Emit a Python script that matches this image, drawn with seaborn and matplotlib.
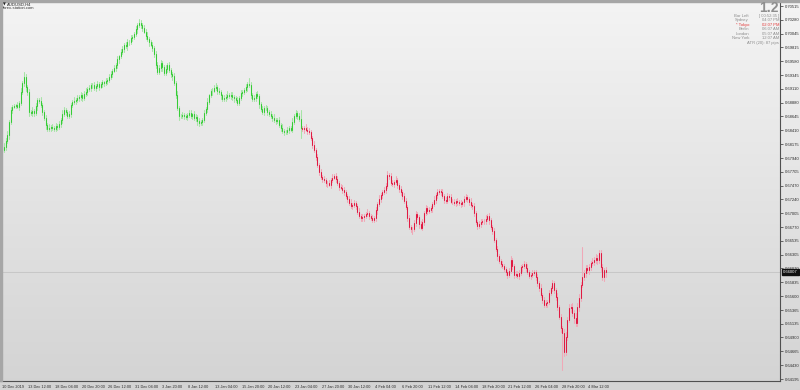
import numpy as np
import pandas as pd
import matplotlib
matplotlib.use("Agg")
import matplotlib.pyplot as plt
import matplotlib.transforms as mtransforms
from matplotlib.colors import LinearSegmentedColormap
from matplotlib.patches import Rectangle
import seaborn as sns

# ---------------- data (AUDUSD, H4) ----------------
symbol = "AUDUSD,H4"
source = "forex-station.com"
first_open = 0.6816
close = [
    0.6811, 0.6808, 0.6813, 0.6823, 0.6833, 0.6855, 0.6875, 0.6880, 0.6882, 0.6884, 0.6881, 0.6887, 0.6906, 0.6921, 0.6931, 0.6914,
    0.6906, 0.6872, 0.6870, 0.6874, 0.6870, 0.6882, 0.6892, 0.6891, 0.6884, 0.6872, 0.6862, 0.6850, 0.6843, 0.6845, 0.6847, 0.6845,
    0.6843, 0.6848, 0.6847, 0.6852, 0.6858, 0.6869, 0.6875, 0.6872, 0.6865, 0.6869, 0.6884, 0.6889, 0.6891, 0.6892, 0.6896, 0.6897,
    0.6901, 0.6896, 0.6903, 0.6906, 0.6911, 0.6913, 0.6917, 0.6918, 0.6912, 0.6916, 0.6919, 0.6915, 0.6919, 0.6922, 0.6921, 0.6925,
    0.6926, 0.6932, 0.6937, 0.6942, 0.6946, 0.6951, 0.6961, 0.6966, 0.6974, 0.6978, 0.6985, 0.6983, 0.6991, 0.6990, 0.6997, 0.6999,
    0.7004, 0.7012, 0.7019, 0.7023, 0.7019, 0.7014, 0.7008, 0.7001, 0.6996, 0.6990, 0.6986, 0.6980, 0.6970, 0.6952, 0.6940, 0.6946,
    0.6955, 0.6948, 0.6938, 0.6945, 0.6952, 0.6943, 0.6936, 0.6933, 0.6921, 0.6901, 0.6879, 0.6865, 0.6865, 0.6867, 0.6865, 0.6863,
    0.6867, 0.6871, 0.6866, 0.6868, 0.6862, 0.6864, 0.6856, 0.6853, 0.6855, 0.6859, 0.6870, 0.6877, 0.6889, 0.6900, 0.6907, 0.6908,
    0.6913, 0.6915, 0.6908, 0.6906, 0.6900, 0.6894, 0.6896, 0.6898, 0.6901, 0.6899, 0.6901, 0.6897, 0.6895, 0.6892, 0.6888, 0.6896,
    0.6904, 0.6906, 0.6909, 0.6914, 0.6919, 0.6918, 0.6901, 0.6894, 0.6896, 0.6902, 0.6899, 0.6885, 0.6877, 0.6872, 0.6879, 0.6879,
    0.6872, 0.6869, 0.6865, 0.6862, 0.6858, 0.6857, 0.6858, 0.6850, 0.6845, 0.6840, 0.6838, 0.6838, 0.6842, 0.6845, 0.6842, 0.6855,
    0.6865, 0.6870, 0.6865, 0.6860, 0.6845, 0.6843, 0.6845, 0.6842, 0.6840, 0.6838, 0.6828, 0.6816, 0.6808, 0.6796, 0.6782, 0.6770,
    0.6762, 0.6758, 0.6756, 0.6751, 0.6752, 0.6749, 0.6757, 0.6761, 0.6764, 0.6759, 0.6752, 0.6745, 0.6744, 0.6739, 0.6737, 0.6730,
    0.6725, 0.6718, 0.6713, 0.6714, 0.6718, 0.6713, 0.6703, 0.6696, 0.6692, 0.6694, 0.6696, 0.6699, 0.6701, 0.6696, 0.6692, 0.6689,
    0.6692, 0.6706, 0.6716, 0.6725, 0.6731, 0.6736, 0.6740, 0.6747, 0.6765, 0.6764, 0.6752, 0.6750, 0.6753, 0.6757, 0.6748, 0.6742,
    0.6736, 0.6730, 0.6721, 0.6711, 0.6692, 0.6677, 0.6674, 0.6674, 0.6684, 0.6699, 0.6694, 0.6682, 0.6676, 0.6686, 0.6701, 0.6709,
    0.6704, 0.6706, 0.6709, 0.6716, 0.6723, 0.6731, 0.6736, 0.6738, 0.6736, 0.6730, 0.6723, 0.6721, 0.6730, 0.6728, 0.6720, 0.6720,
    0.6718, 0.6721, 0.6719, 0.6717, 0.6716, 0.6719, 0.6725, 0.6728, 0.6724, 0.6720, 0.6714, 0.6712, 0.6701, 0.6686, 0.6679, 0.6682,
    0.6686, 0.6687, 0.6687, 0.6691, 0.6696, 0.6689, 0.6677, 0.6670, 0.6655, 0.6640, 0.6628, 0.6620, 0.6615, 0.6611, 0.6606, 0.6601,
    0.6596, 0.6603, 0.6621, 0.6611, 0.6596, 0.6598, 0.6594, 0.6599, 0.6609, 0.6611, 0.6615, 0.6608, 0.6601, 0.6594, 0.6596, 0.6599,
    0.6601, 0.6592, 0.6582, 0.6574, 0.6562, 0.6554, 0.6545, 0.6548, 0.6550, 0.6565, 0.6574, 0.6582, 0.6570, 0.6559, 0.6542, 0.6525,
    0.6506, 0.6498, 0.6465, 0.6491, 0.6520, 0.6540, 0.6542, 0.6532, 0.6523, 0.6515, 0.6542, 0.6557, 0.6579, 0.6592, 0.6599, 0.6608,
    0.6604, 0.6609, 0.6616, 0.6618, 0.6621, 0.6625, 0.6621, 0.6633, 0.6609, 0.6592, 0.6604, 0.66007,
]
upper_wick_pips = [
    4, 3, 6, 5, 7, 4, 5, 3, 4, 2, 5, 3, 6, 4, 9, 5,
    3, 5, 4, 6, 3, 5, 4, 3, 6, 4, 3, 5, 4, 6, 3, 4,
    4, 6, 3, 5, 4, 6, 5, 3, 4, 5, 3, 4, 6, 3, 5, 4,
    5, 3, 4, 6, 3, 5, 4, 3, 5, 4, 6, 3, 4, 5, 3, 4,
    3, 5, 4, 3, 6, 4, 5, 3, 4, 6, 3, 5, 4, 3, 5, 4,
    4, 5, 3, 7, 4, 3, 5, 4, 6, 3, 4, 5, 3, 6, 4, 5,
    5, 3, 4, 6, 3, 5, 4, 3, 5, 4, 6, 3, 4, 5, 3, 4,
    3, 5, 4, 3, 6, 4, 3, 5, 4, 3, 5, 4, 6, 3, 4, 5,
    4, 6, 3, 5, 4, 3, 5, 4, 6, 3, 4, 5, 3, 4, 6, 3,
    5, 3, 4, 6, 3, 11, 4, 3, 5, 4, 6, 3, 4, 5, 3, 4,
    3, 4, 5, 3, 6, 4, 3, 5, 4, 6, 3, 4, 5, 3, 4, 6,
    4, 6, 3, 5, 15, 4, 3, 6, 4, 5, 3, 4, 6, 3, 5, 4,
    5, 3, 6, 4, 3, 5, 4, 6, 3, 5, 4, 3, 5, 4, 6, 3,
    3, 4, 6, 3, 5, 4, 3, 6, 4, 5, 3, 4, 6, 3, 4, 5,
    4, 5, 3, 6, 4, 3, 5, 4, 7, 3, 4, 5, 3, 6, 4, 3,
    5, 3, 4, 6, 3, 5, 4, 3, 5, 6, 4, 3, 5, 4, 3, 5,
    3, 5, 4, 3, 6, 4, 5, 3, 4, 6, 3, 5, 4, 3, 5, 4,
    4, 3, 5, 4, 6, 3, 4, 5, 3, 4, 6, 3, 5, 4, 3, 5,
    5, 4, 3, 6, 4, 5, 3, 4, 6, 3, 5, 4, 3, 5, 4, 3,
    3, 5, 7, 4, 3, 5, 4, 6, 3, 4, 5, 3, 6, 4, 3, 5,
    4, 3, 5, 4, 6, 3, 4, 5, 3, 6, 4, 5, 3, 4, 6, 3,
    5, 4, 6, 8, 5, 7, 4, 6, 5, 8, 6, 7, 5, 51, 6, 5,
    5, 6, 4, 7, 5, 6, 4, 5, 6, 5, 4, 6,
]
lower_wick_pips = [
    7, 4, 3, 5, 4, 6, 3, 5, 2, 4, 3, 5, 4, 3, 5, 6,
    5, 6, 3, 4, 5, 3, 6, 4, 3, 5, 4, 6, 3, 4, 5, 3,
    3, 4, 5, 3, 6, 4, 3, 5, 4, 3, 5, 3, 4, 6, 3, 5,
    4, 5, 3, 4, 5, 3, 6, 4, 3, 5, 4, 6, 3, 4, 5, 3,
    5, 3, 4, 6, 3, 5, 4, 6, 3, 4, 5, 3, 6, 4, 3, 5,
    3, 4, 6, 3, 5, 4, 3, 5, 4, 6, 3, 4, 5, 6, 4, 3,
    4, 6, 3, 4, 5, 3, 4, 6, 3, 5, 4, 6, 3, 4, 5, 3,
    5, 3, 4, 6, 3, 5, 6, 4, 3, 5, 4, 3, 5, 4, 3, 6,
    3, 4, 5, 3, 6, 4, 3, 5, 4, 3, 5, 4, 6, 3, 4, 5,
    4, 5, 3, 4, 6, 3, 5, 4, 3, 5, 4, 6, 3, 4, 5, 3,
    5, 3, 4, 6, 3, 5, 4, 3, 6, 4, 5, 3, 4, 5, 3, 4,
    3, 4, 5, 3, 17, 4, 6, 3, 5, 4, 3, 5, 4, 6, 3, 5,
    4, 5, 3, 4, 6, 3, 5, 4, 3, 6, 4, 5, 3, 4, 5, 3,
    5, 3, 4, 6, 3, 5, 4, 3, 5, 4, 6, 3, 4, 5, 3, 4,
    3, 4, 6, 3, 5, 4, 3, 5, 4, 6, 3, 4, 5, 3, 4, 6,
    4, 6, 3, 4, 5, 3, 6, 8, 3, 5, 4, 6, 3, 4, 5, 3,
    5, 3, 4, 6, 3, 5, 4, 3, 5, 4, 6, 3, 4, 5, 3, 4,
    3, 5, 4, 3, 5, 4, 6, 3, 4, 5, 3, 4, 6, 3, 5, 4,
    4, 3, 5, 4, 3, 6, 4, 5, 3, 4, 6, 3, 5, 4, 3, 5,
    5, 4, 3, 5, 6, 3, 4, 5, 3, 6, 4, 5, 3, 4, 5, 3,
    3, 5, 4, 6, 3, 5, 4, 3, 6, 4, 3, 5, 4, 6, 5, 4,
    6, 63, 7, 5, 6, 4, 7, 5, 8, 6, 5, 7, 6, 4, 5, 6,
    4, 6, 5, 4, 6, 5, 7, 4, 6, 5, 6, 8,
]
n_up_bars = 181  # first bars drawn in the "up" colour, the rest in the "down" colour

time_labels = ["10 Dec 2019", "13 Dec 12:00", "18 Dec 04:00", "20 Dec 20:00", "26 Dec 12:00",
               "31 Dec 04:00", "3 Jan 20:00", "8 Jan 12:00", "13 Jan 04:00", "15 Jan 20:00",
               "20 Jan 12:00", "23 Jan 04:00", "27 Jan 20:00", "30 Jan 12:00", "4 Feb 04:00",
               "6 Feb 20:00", "11 Feb 12:00", "14 Feb 04:00", "18 Feb 20:00", "21 Feb 12:00",
               "26 Feb 04:00", "28 Feb 20:00", "4 Mar 12:00"]
time_label_bars = [0, 16, 32, 48, 64, 80, 96, 112, 128, 144, 160, 176, 192, 208, 224,
                   240, 256, 272, 288, 304, 320, 336, 352]

price_ticks = [0.70515, 0.70280, 0.70045, 0.69815, 0.69580, 0.69345, 0.69110, 0.68880,
               0.68645, 0.68410, 0.68175, 0.67940, 0.67705, 0.67470, 0.67240, 0.67005,
               0.66770, 0.66535, 0.66305, 0.66070, 0.65835, 0.65600, 0.65365, 0.65135,
               0.64900, 0.64665, 0.64430, 0.64195]
price_tick_labels = [f"{p:.5f}" for p in price_ticks]

version_text = "1.2"
info_labels = ["Bar Left", "Sydney", "* Tokyo", "Berlin", "London", "New York"]
info_values = ["[ 00:52:35 ]", "04:07 PM", "02:07 PM", "06:07 AM", "05:07 AM", "12:07 AM"]
atr_text = "ATR (20): 87 pips"

# ---------------- frame ----------------
n = len(close)
bars = np.arange(n)
opens = np.array([first_open] + close[:-1])
closes = np.array(close)
highs = np.maximum(opens, closes) + np.array(upper_wick_pips) / 10000.0
lows = np.minimum(opens, closes) - np.array(lower_wick_pips) / 10000.0
trend = np.array(["up"] * n_up_bars + ["down"] * (n - n_up_bars))

wick_df = pd.DataFrame({"bar": np.repeat(bars, 2),
                        "price": np.column_stack([lows, highs]).ravel(),
                        "trend": np.repeat(trend, 2)})
body_df = pd.DataFrame({"bar": np.repeat(bars, 2),
                        "price": np.column_stack([opens, closes]).ravel(),
                        "trend": np.repeat(trend, 2)})

sns.set_style("white")
plt.rcParams["font.family"] = ["Liberation Sans", "DejaVu Sans"]

W, H = 800, 390
fig = plt.figure(figsize=(W / 100, H / 100), dpi=100)

def fx(x):
    return x / W

def fy(y):
    return 1 - y / H

# background gradient
bg = fig.add_axes([0, 0, 1, 1], zorder=0)
cmap = LinearSegmentedColormap.from_list("bg", ["#f4f4f4", "#d3d3d3"])
bg.imshow(np.linspace(0, 1, 256).reshape(-1, 1), aspect="auto", cmap=cmap,
          extent=[0, 1, 0, 1], origin="upper")
bg.set_axis_off()

ax_left, ax_right, ax_top, ax_bottom = 0, 780, 3, 381
ax = fig.add_axes([fx(ax_left), fy(ax_bottom), fx(ax_right - ax_left), (ax_bottom - ax_top) / H], zorder=1)
ax.set_facecolor("none")

# current price line
ax.axhline(closes[-1], color="#c4c4c4", lw=0.6, zorder=0)

light = {"up": "#a6e4a6", "down": "#f0a8b7"}
solid = {"up": "#36cc36", "down": "#e01a42"}
sns.lineplot(data=wick_df, x="bar", y="price", units="bar", estimator=None, hue="trend",
             palette=light, lw=0.75, legend=False, ax=ax, sort=False)
sns.lineplot(data=body_df, x="bar", y="price", units="bar", estimator=None, hue="trend",
             palette=solid, lw=0.75, legend=False, ax=ax, sort=False)

ax.set_xlim(-0.3, 467.7)
ax.set_ylim(0.64163, 0.70566)
ax.set_xlabel("")
ax.set_ylabel("")

for s in ["left", "top"]:
    ax.spines[s].set_visible(False)
for s in ["right", "bottom"]:
    ax.spines[s].set_color("#505050")
    ax.spines[s].set_linewidth(0.8)

ax.yaxis.tick_right()
ax.set_yticks(price_ticks, price_tick_labels)
ax.set_xticks(time_label_bars, time_labels, ha="left")
ax.tick_params(axis="y", direction="out", length=2.5, width=0.6, color="#505050",
               labelsize=3.0, labelcolor="#2a2a2a", pad=1.2)
ax.tick_params(axis="x", direction="out", length=2.5, width=0.6, color="#505050",
               labelsize=2.8, labelcolor="#2a2a2a", pad=0.6)
for lbl in ax.get_xticklabels():
    lbl.set_x(lbl.get_position()[0])
offset = mtransforms.ScaledTranslation(1.0 / 100, 0, fig.dpi_scale_trans)
for lbl in ax.get_xticklabels():
    lbl.set_transform(lbl.get_transform() + offset)

# current price tag
trans = mtransforms.blended_transform_factory(ax.transAxes, ax.transData)
ax.text(1.004, closes[-1], f"{closes[-1]:.5f}", transform=trans, ha="left", va="center",
        fontsize=3.0, color="white", clip_on=False,
        bbox=dict(boxstyle="square,pad=0.25", fc="#111111", ec="#111111"))

# window borders
fig.add_artist(Rectangle((0, fy(2)), 1, 2 / H, transform=fig.transFigure, color="#a6a6a6", zorder=5))
fig.add_artist(Rectangle((0, fy(381)), 1.5 / W, 379 / H, transform=fig.transFigure, color="#a6a6a6", zorder=5))

# top-left title
fig.text(fx(3), fy(4.5), "\u25bc", fontsize=2.6, color="#222222", ha="left", va="center",
         family=["DejaVu Sans"], zorder=6)
fig.text(fx(6.5), fy(4.5), symbol, fontsize=3.0, color="#222222", ha="left", va="center", zorder=6)
fig.text(fx(2.5), fy(8.2), source, fontsize=3.0, color="#333333", ha="left", va="center", zorder=6)

# top-right panel
fig.text(fx(779), fy(8), version_text, fontsize=10, color="#8e8e8e", ha="right", va="center",
         fontweight="bold", zorder=6)
row_y = [16, 20.4, 24.8, 29.2, 33.8, 38.4]
for lab, val, yy in zip(info_labels, info_values, row_y):
    col = "#e23a3a" if "Tokyo" in lab else "#8c8c8c"
    fig.text(fx(749), fy(yy), lab, fontsize=3.0, color=col, ha="right", va="center", zorder=6)
    fig.text(fx(779), fy(yy), val, fontsize=3.0, color=col, ha="right", va="center", zorder=6)
fig.text(fx(779), fy(43), atr_text, fontsize=3.0, color="#8c8c8c", ha="right", va="center", zorder=6)

fig.savefig("out.png", dpi=100)
